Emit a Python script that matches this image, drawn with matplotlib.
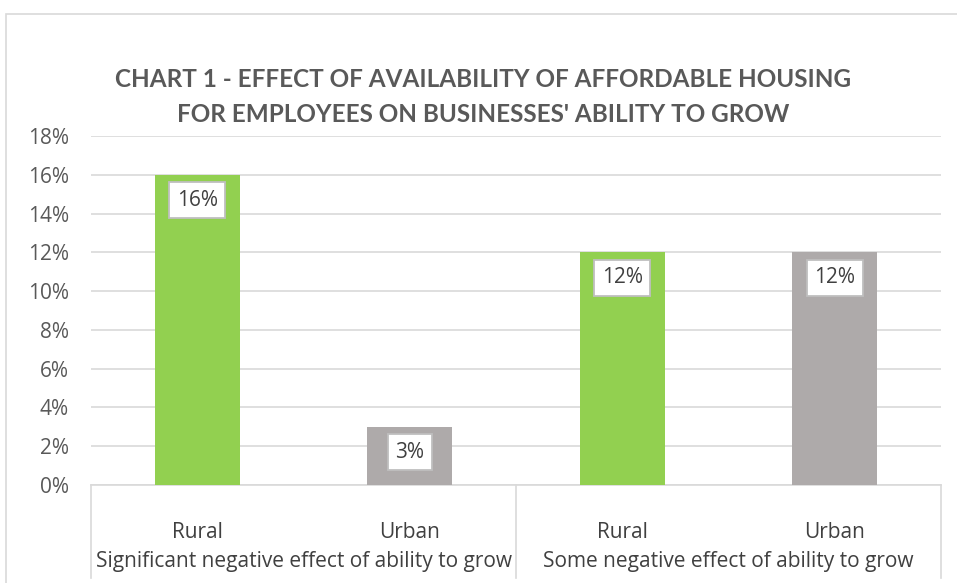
import matplotlib.pyplot as plt
from matplotlib.patches import Rectangle
from matplotlib.lines import Line2D
import matplotlib.transforms as mtrans

plt.rcParams['font.family'] = ['Open Sans', 'DejaVu Sans']

groups = ["Significant negative effect of ability to grow", "Some negative effect of ability to grow"]
sub_labels = ["Rural", "Urban", "Rural", "Urban"]
values = [16, 3, 12, 12]
colors = ["#92D050", "#AEAAAA", "#92D050", "#AEAAAA"]
yticks = [0, 2, 4, 6, 8, 10, 12, 14, 16, 18]
title_lines = ["CHART 1 - EFFECT OF AVAILABILITY OF AFFORDABLE HOUSING",
               "FOR EMPLOYEES ON BUSINESSES' ABILITY TO GROW"]

W, H = 957, 583
FS = 15
fig = plt.figure(figsize=(W/100, H/100), dpi=100)
ax = fig.add_axes([91/W, (H-485)/H, (941-91)/W, (485-136)/H])

x = list(range(len(values)))
ax.bar(x, values, width=0.4, color=colors, zorder=3)
ax.set_xlim(-0.5, len(values)-0.5)
ax.set_ylim(0, 18)
ax.set_yticks(yticks)
ax.set_yticklabels([f"{t}%" for t in yticks], fontsize=FS, color="#595959")
ax.tick_params(axis='y', length=0, pad=16)
ax.tick_params(axis='x', length=0, labelbottom=False)
ax.grid(axis='y', color="#D9D9D9", linewidth=1.2, zorder=0)
for s in ['top', 'right', 'left']:
    ax.spines[s].set_visible(False)
ax.spines['bottom'].set_color("#D9D9D9")
ax.spines['bottom'].set_linewidth(1.2)

for xi, v in zip(x, values):
    ax.annotate(f"{v}%", xy=(xi, v), xytext=(0, -18.4), textcoords='offset points',
                ha='center', va='center', fontsize=FS, color="#404040", zorder=5,
                bbox=dict(boxstyle='square,pad=0.36', fc='white', ec='#BFBFBF', lw=1.3))

trans = mtrans.blended_transform_factory(ax.transData, fig.transFigure)
for xi, lab in zip(x, sub_labels):
    ax.text(xi, (H-532)/H, lab, transform=trans, ha='center', va='center',
            fontsize=FS, color="#404040")
for gi, g in enumerate(groups):
    ax.text(gi*2 + 0.5, (H-562)/H, g, transform=trans, ha='center', va='center',
            fontsize=FS, color="#404040")
for xs in [-0.5, 1.5, 3.5]:
    fig.add_artist(Line2D([xs, xs], [(H-485)/H, (H-578)/H], transform=trans,
                          color="#D9D9D9", lw=1.2))

for yy, line in zip([80, 114], title_lines):
    fig.text(483/W, (H-yy)/H, line, ha='center', va='center', fontsize=17.5,
             fontweight='bold', color="#595959", family=['Lato', 'DejaVu Sans'])

fig.add_artist(Rectangle((6/W, -0.05), 1.0, (H-14)/H + 0.05, transform=fig.transFigure,
                         fill=False, ec="#D9D9D9", lw=1.2))

fig.savefig("out.png", dpi=100)
